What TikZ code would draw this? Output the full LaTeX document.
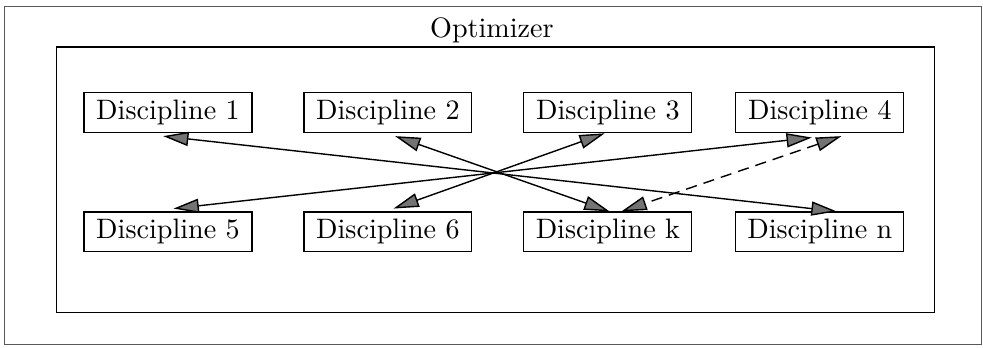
\documentclass[tikz,border=0pt]{standalone}
\usepackage{tikz}
\usetikzlibrary{arrows.meta}

\begin{document}
\begin{tikzpicture}[
  discbox/.style={draw, line width=0.4pt, minimum width=2.1cm,
                  minimum height=0.5cm, inner sep=2pt, text centered},
  link/.style={<->, >={Triangle[length=9pt, width=5pt, fill=black!55]},
               line width=0.5pt},
  dashlink/.style={link, dash pattern=on 4pt off 2.5pt}
]
  \useasboundingbox (0,0) rectangle (12.29,4.34);

  % page frame and the optimizer box
  \draw[black!65, line width=0.4pt] (0.06,0.03) rectangle (12.27,4.26);
  \draw[line width=0.5pt] (0.71,0.43) rectangle (11.68,3.75);
  \node[anchor=base] (opt) at (6.15,3.875) {Optimizer};

  \node[discbox] (d1) at (2.10,2.93) {Discipline 1};
  \node[discbox] (d2) at (4.85,2.93) {Discipline 2};
  \node[discbox] (d3) at (7.60,2.93) {Discipline 3};
  \node[discbox] (d4) at (10.25,2.93) {Discipline 4};

  \node[discbox] (d5) at (2.10,1.44) {Discipline 5};
  \node[discbox] (d6) at (4.85,1.44) {Discipline 6};
  \node[discbox] (dk) at (7.60,1.44) {Discipline k};
  \node[discbox] (dn) at (10.25,1.44) {Discipline n};

  % couplings, all crossing in the middle
  \draw[link] ([xshift=-0.06cm, yshift=-1pt]d1.south) -- ([xshift=0.21cm]dn.north);
  \draw[link] ([xshift=0.09cm, yshift=-1pt]d2.south) -- ([xshift=0.02cm]dk.north);
  \draw[link] ([xshift=-0.04cm]d3.south) -- ([xshift=0.07cm, yshift=1pt]d6.north);
  \draw[link] ([xshift=-0.10cm, yshift=-1.5pt]d4.south) -- ([xshift=0.07cm, yshift=1pt]d5.north);

  \draw[dashlink] ([xshift=0.27cm, yshift=-1pt]d4.south) -- ([xshift=0.17cm]dk.north);
\end{tikzpicture}
\end{document}
